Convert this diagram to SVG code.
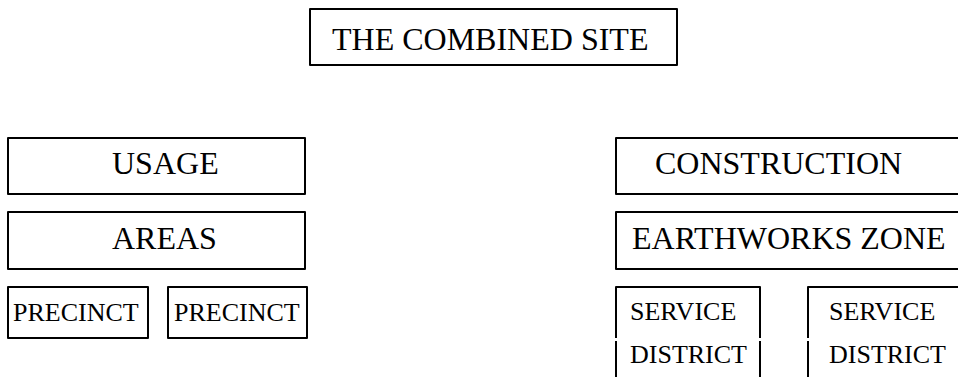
<svg xmlns="http://www.w3.org/2000/svg" width="958" height="377" viewBox="0 0 958 377">
<style>
.box{fill:#fff;stroke:#000;stroke-width:2;stroke-linejoin:round}
.ln{fill:none;stroke:#000;stroke-width:2;stroke-linejoin:round}
.t{font-family:"Liberation Serif","Times New Roman",serif;fill:#000}
.l{font-size:32px}
.s{font-size:26px}
</style>
<rect width="958" height="377" fill="#fff"/>
<g id="site"><rect class="box" x="310" y="9" width="367" height="56"/><text class="t l" x="332" y="50">THE COMBINED SITE</text></g>
<g id="usage"><rect class="box" x="8" y="138" width="297" height="56"/><text class="t l" x="112" y="174">USAGE</text></g>
<g id="areas"><rect class="box" x="8" y="212" width="297" height="57"/><text class="t l" x="112" y="249">AREAS</text></g>
<g id="precinct1"><rect class="box" x="8" y="287" width="140" height="51"/><text class="t s" x="13" y="321">PRECINCT</text></g>
<g id="precinct2"><rect class="box" x="168" y="287" width="139" height="51"/><text class="t s" x="174" y="321">PRECINCT</text></g>
<g id="construction"><rect class="box" x="616" y="138" width="360" height="56"/><text class="t l" x="655" y="174">CONSTRUCTION</text></g>
<g id="earthworks"><rect class="box" x="616" y="212" width="360" height="57"/><text class="t l" x="632" y="249">EARTHWORKS ZONE</text></g>
<g id="service1"><path class="ln" d="M616 338V287H760V338M616 341V380M760 341V380"/><text class="t s" x="630" y="320">SERVICE</text><text class="t s" x="630" y="363">DISTRICT</text></g>
<g id="service2"><path class="ln" d="M808 338V287H970M808 341V380"/><text class="t s" x="829" y="320">SERVICE</text><text class="t s" x="829" y="363">DISTRICT</text></g>
<g id="connectors"></g>
</svg>
